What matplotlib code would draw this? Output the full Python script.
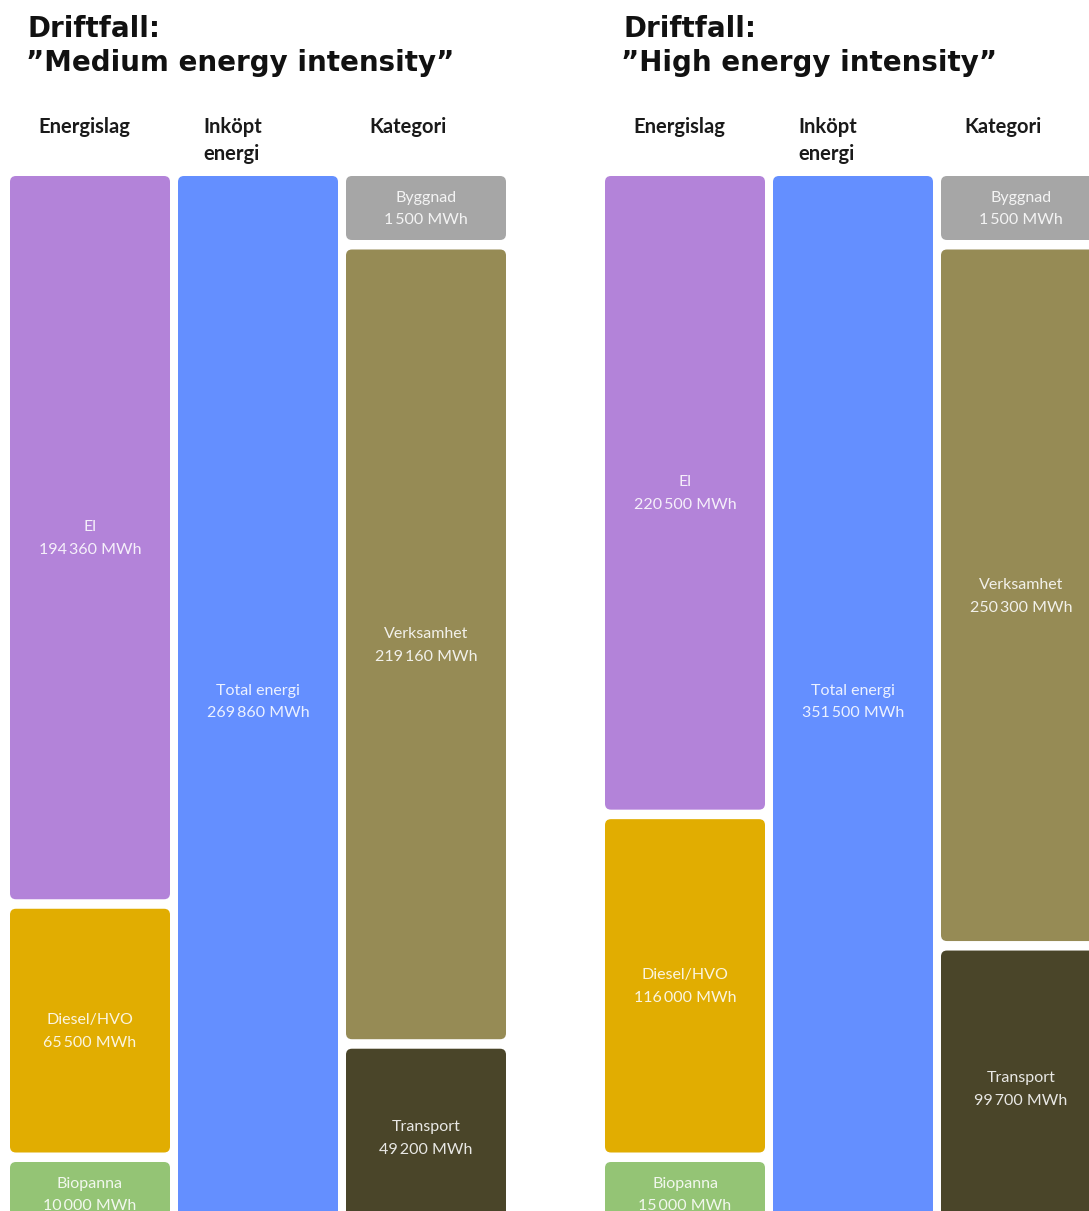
import matplotlib
matplotlib.use("Agg")
import matplotlib.pyplot as plt
from matplotlib.patches import FancyBboxPatch

# ---------------- data ----------------
scenario_titles = ["Driftfall:\n\u201dMedium energy intensity\u201d",
                   "Driftfall:\n\u201dHigh energy intensity\u201d"]
column_headers = ["Energislag", "Inköpt\nenergi", "Kategori"]

energislag_labels = ["El", "Diesel/HVO", "Biopanna"]
medium_energislag = [194360, 65500, 10000]
high_energislag = [220500, 116000, 15000]

total_labels = ["Total energi"]
medium_total = [269860]
high_total = [351500]

kategori_labels = ["Byggnad", "Verksamhet", "Transport"]
medium_kategori = [1500, 219160, 49200]
high_kategori = [1500, 250300, 99700]

unit = "MWh"

# ---------------- style / layout ----------------
energislag_colors = ["#B383D9", "#E1AD01", "#94C475"]
total_colors = ["#648FFF"]
kategori_colors = ["#A6A6A6", "#968B55", "#4A4529"]

W, H = 1089, 1211
COL_TOP = 176
COL_HEIGHT = 1050
GAP = 9.5
MIN_BOX = 64
COL_W = 160
COL_X = [10, 178, 346]
PANEL_DX = 595
RADIUS = 6

TITLE_FONT = "DejaVu Sans"
LABEL_FONT = ["Lato", "DejaVu Sans"]


def layout(values):
    """Split a column of fixed height into boxes proportional to values,
    with a minimum box height."""
    n = len(values)
    avail = COL_HEIGHT - GAP * (n - 1)
    fixed = set()
    while True:
        rest = avail - MIN_BOX * len(fixed)
        tot = sum(v for i, v in enumerate(values) if i not in fixed)
        new = {i for i, v in enumerate(values)
               if i not in fixed and v / tot * rest < MIN_BOX}
        if not new:
            break
        fixed |= new
    heights = [MIN_BOX if i in fixed else v / tot * rest
               for i, v in enumerate(values)]
    tops = []
    y = COL_TOP
    for h in heights:
        tops.append(y)
        y += h + GAP
    return tops, heights


def fmt(v):
    return f"{v:,}".replace(",", "\u2009") + " " + unit


fig = plt.figure(figsize=(W / 100, H / 100), dpi=100)
ax = fig.add_axes([0, 0, 1, 1])
ax.set_xlim(0, W)
ax.set_ylim(H, 0)
ax.axis("off")

panels = [
    (medium_energislag, medium_total, medium_kategori),
    (high_energislag, high_total, high_kategori),
]

for p, (energ, total, kat) in enumerate(panels):
    dx = p * PANEL_DX
    # title
    l1, l2 = scenario_titles[p].split("\n")
    ax.text(28 + dx, 37, l1, fontsize=20, fontweight="bold",
            family=TITLE_FONT, ha="left", va="baseline", color="#111111")
    ax.text(26 + dx, 71, l2, fontsize=20, fontweight="bold",
            family=TITLE_FONT, ha="left", va="baseline", color="#111111")
    # column headers
    hx = [38, 203, 369]
    for c, head in enumerate(column_headers):
        for k, line in enumerate(head.split("\n")):
            ax.text(hx[c] + dx, 133 + 27 * k, line, fontsize=14.5,
                    fontweight="bold", family=LABEL_FONT, ha="left",
                    va="baseline", color="#1a1a1a")
    cols = [(energ, energislag_labels, energislag_colors),
            (total, total_labels, total_colors),
            (kat, kategori_labels, kategori_colors)]
    for c, (vals, labs, cols_) in enumerate(cols):
        tops, heights = layout(vals)
        x0 = COL_X[c] + dx
        for v, lab, col, t, h in zip(vals, labs, cols_, tops, heights):
            patch = FancyBboxPatch((x0, t), COL_W, h,
                                   boxstyle=f"round,pad=0,rounding_size={RADIUS}",
                                   facecolor=col, edgecolor="none")
            ax.add_patch(patch)
            ax.text(x0 + COL_W / 2, t + h / 2 + 1, f"{lab}\n{fmt(v)}",
                    ha="center", va="center", fontsize=11.5,
                    family=LABEL_FONT, color="white", alpha=0.88,
                    linespacing=1.8)

fig.savefig("out.png", dpi=100)
